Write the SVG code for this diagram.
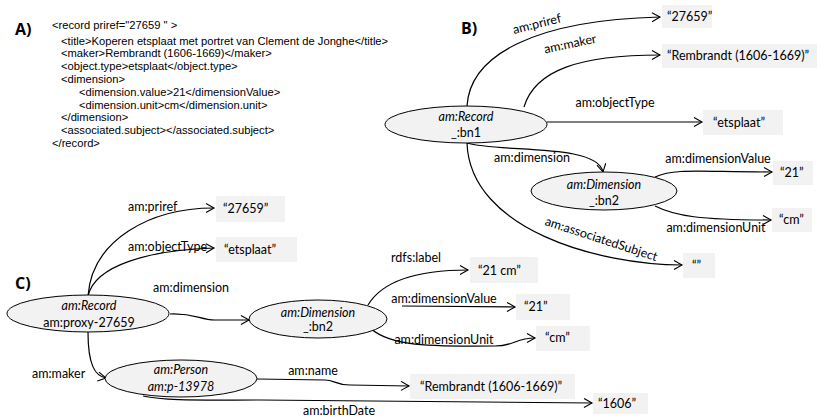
<svg xmlns="http://www.w3.org/2000/svg" width="821" height="418" viewBox="0 0 821 418">
<defs>
<marker id="arr" markerUnits="userSpaceOnUse" markerWidth="12" markerHeight="12" refX="9" refY="5" orient="auto">
<path d="M1,0.5 L9,5 L1,9.5" fill="none" stroke="#000" stroke-width="1.1"/>
</marker>
<style>
.xml{font-family:"Liberation Sans",Arial,sans-serif;font-size:11.2px;fill:#000}
.hd{font-family:"Open Sans","Liberation Sans",sans-serif;font-size:16px;font-weight:bold;fill:#000}
.t{font-family:Lato,"Liberation Sans",sans-serif;font-size:12.5px;fill:#000}
.i{font-style:italic}
.m{text-anchor:middle}
.node{fill:#f2f2f2;stroke:#000;stroke-width:1}
.lit{fill:#f2f2f2}
.edge{fill:none;stroke:#000;stroke-width:1.2;marker-end:url(#arr)}
</style>
</defs>
<rect width="821" height="418" fill="#fff"/>

<g id="panelA">
<text class="hd" x="15" y="35">A)</text>
<text class="xml" x="52" y="29">&lt;record priref="27659 " &gt;</text>
<text class="xml" x="61" y="44.5">&lt;title&gt;Koperen etsplaat met portret van Clement de Jonghe&lt;/title&gt;</text>
<text class="xml" x="61" y="57">&lt;maker&gt;Rembrandt (1606-1669)&lt;/maker&gt;</text>
<text class="xml" x="61" y="70">&lt;object.type&gt;etsplaat&lt;/object.type&gt;</text>
<text class="xml" x="61" y="83">&lt;dimension&gt;</text>
<text class="xml" x="79" y="95.5">&lt;dimension.value&gt;21&lt;/dimensionValue&gt;</text>
<text class="xml" x="79" y="108.5">&lt;dimension.unit&gt;cm&lt;/dimension.unit&gt;</text>
<text class="xml" x="61" y="121">&lt;/dimension&gt;</text>
<text class="xml" x="61" y="134">&lt;associated.subject&gt;&lt;/associated.subject&gt;</text>
<text class="xml" x="52" y="146.5">&lt;/record&gt;</text>
</g>

<text class="hd" x="461" y="34">B)</text>
<text class="hd" x="15" y="289">C)</text>

<g id="edges">
<!-- B -->
<path class="edge" d="M467,106 C470,55 535,20 660,17"/>
<path class="edge" d="M524,107 C535,70 580,55 660,55"/>
<path class="edge" d="M547,122 L702,122"/>
<path class="edge" d="M467,143 C500,153 597,143 603,172"/>
<path class="edge" d="M655,177 C675,168 700,172 772,172"/>
<path class="edge" d="M655,206 C675,216 700,220 771,220"/>
<path class="edge" d="M467,143 C470,230 600,265 682,265"/>
<!-- C -->
<path class="edge" d="M88,296 C92,240 150,208 214,208"/>
<path class="edge" d="M88,296 C95,265 150,250 214,248"/>
<path class="edge" d="M170,314 C195,313 200,320 215,320 L249,320"/>
<path class="edge" d="M368,305 C380,285 410,270 468,270"/>
<path class="edge" d="M402,306 L515,307"/>
<path class="edge" d="M367,325 C385,345 420,347 495,346 C515,346 515,338 535,338"/>
<path class="edge" d="M88,332 C88,365 95,376 106,378"/>
<path class="edge" d="M257,379 L325,380 C335,380 335,385 350,385 L409,386"/>
<path class="edge" d="M143,396 C165,401 200,400 260,400 L592,403"/>
</g>

<g id="edge-labels">
<text class="t" transform="translate(538,28) rotate(-14)" text-anchor="middle">am:priref</text>
<text class="t" transform="translate(571,48) rotate(-12)" text-anchor="middle">am:maker</text>
<text class="t m" x="615" y="107">am:objectType</text>
<text class="t m" x="532" y="162">am:dimension</text>
<text class="t m" x="718" y="163">am:dimensionValue</text>
<text class="t m" x="716" y="232">am:dimensionUnit</text>
<text class="t" transform="translate(600,243) rotate(18)" text-anchor="middle">am:associatedSubject</text>
<text class="t" x="128" y="211">am:priref</text>
<text class="t" x="128" y="251">am:objectType</text>
<text class="t m" x="191" y="292">am:dimension</text>
<text class="t m" x="416" y="262">rdfs:label</text>
<text class="t m" x="444" y="303">am:dimensionValue</text>
<text class="t m" x="444" y="344">am:dimensionUnit</text>
<text class="t" x="32" y="378">am:maker</text>
<text class="t m" x="313" y="375">am:name</text>
<text class="t m" x="339" y="415">am:birthDate</text>
</g>

<g id="B-record">
<ellipse class="node" cx="466" cy="124.5" rx="81" ry="18.5"/>
<text class="t i m" x="466" y="121">am:Record</text>
<text class="t m" x="466" y="137">_:bn1</text>
</g>
<g id="B-dimension">
<ellipse class="node" cx="604" cy="191" rx="73" ry="19"/>
<text class="t i m" x="604" y="189">am:Dimension</text>
<text class="t m" x="604" y="205">_:bn2</text>
</g>
<g id="B-lit-priref"><rect class="lit" x="662" y="5" width="50" height="23"/><text class="t" x="667" y="21">“27659”</text></g>
<g id="B-lit-maker"><rect class="lit" x="662" y="44" width="155" height="24"/><text class="t" x="667" y="60">“Rembrandt (1606-1669)”</text></g>
<g id="B-lit-type"><rect class="lit" x="703" y="110" width="80" height="25"/><text class="t" x="713" y="127">“etsplaat”</text></g>
<g id="B-lit-21"><rect class="lit" x="773" y="161" width="40" height="24"/><text class="t" x="780" y="177">“21”</text></g>
<g id="B-lit-cm"><rect class="lit" x="772" y="208" width="40" height="24"/><text class="t" x="779" y="224">“cm”</text></g>
<g id="B-lit-subj"><rect class="lit" x="683" y="253" width="32" height="25"/><text class="t" x="692" y="270">“”</text></g>

<g id="C-record">
<ellipse class="node" cx="88" cy="313.5" rx="81" ry="18.5"/>
<text class="t i m" x="89" y="310">am:Record</text>
<text class="t m" x="89" y="327">am:proxy-27659</text>
</g>
<g id="C-dimension">
<ellipse class="node" cx="318" cy="319" rx="69" ry="19"/>
<text class="t i m" x="318" y="317">am:Dimension</text>
<text class="t m" x="318" y="331">_:bn2</text>
</g>
<g id="C-person">
<ellipse class="node" cx="181" cy="378.5" rx="76" ry="18.5"/>
<text class="t i m" x="181" y="374">am:Person</text>
<text class="t i m" x="181" y="391">am:p-13978</text>
</g>
<g id="C-lit-priref"><rect class="lit" x="216" y="196" width="69" height="26"/><text class="t" x="223" y="213">“27659”</text></g>
<g id="C-lit-type"><rect class="lit" x="216" y="237" width="81" height="25"/><text class="t" x="224" y="254">“etsplaat”</text></g>
<g id="C-lit-label"><rect class="lit" x="470" y="257" width="68" height="26"/><text class="t" x="478" y="275">“21 cm”</text></g>
<g id="C-lit-21"><rect class="lit" x="516" y="294" width="54" height="26"/><text class="t" x="524" y="311">“21”</text></g>
<g id="C-lit-cm"><rect class="lit" x="536" y="326" width="54" height="25"/><text class="t" x="545" y="342">“cm”</text></g>
<g id="C-lit-name"><rect class="lit" x="410" y="374" width="165" height="25"/><text class="t" x="420" y="391">“Rembrandt (1606-1669)”</text></g>
<g id="C-lit-birth"><rect class="lit" x="593" y="393" width="55" height="21"/><text class="t" x="598" y="408">“1606”</text></g>
</svg>
